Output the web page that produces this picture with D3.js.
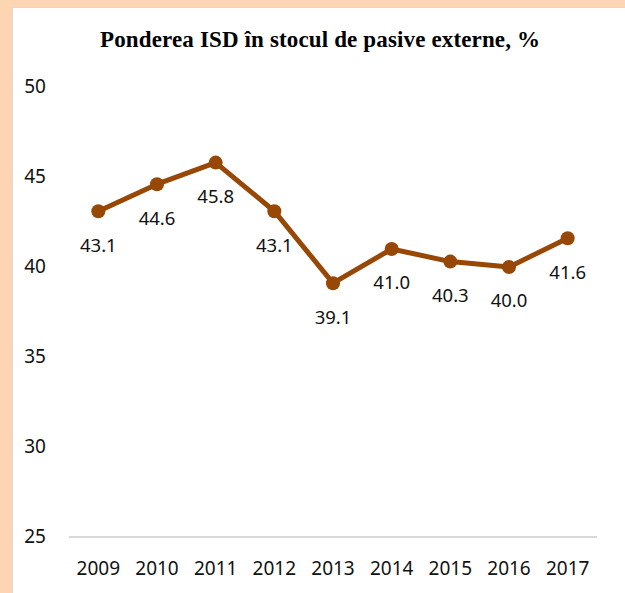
<!DOCTYPE html>
<html>
<head>
<meta charset="utf-8">
<script src="https://cdn.jsdelivr.net/npm/d3@7"></script>
<style>
  body { margin: 0; background: #fdd5b2; }
  #chart { position: absolute; left: 12px; top: 7px; }
</style>
</head>
<body>
<div id="chart"></div>
<script>
// data
const years = ["2009", "2010", "2011", "2012", "2013", "2014", "2015", "2016", "2017"];
const values = [43.1, 44.6, 45.8, 43.1, 39.1, 41.0, 40.3, 40.0, 41.6];
const yTicks = [25, 30, 35, 40, 45, 50];
const title = "Ponderea ISD în stocul de pasive externe, %";

const width = 625 - 12;
const height = 593 - 7;
const margin = {top: 80, right: 28, bottom: 56, left: 57};

const svg = d3.select("#chart").append("svg")
  .attr("width", width)
  .attr("height", height)
  .style("display", "block");

// white panel with thin grey edge
svg.append("rect")
  .attr("x", 0.5).attr("y", 0.5)
  .attr("width", width + 2).attr("height", height + 2)
  .attr("fill", "#ffffff")
  .attr("stroke", "#d9d9d9");

const x = d3.scaleBand()
  .domain(years)
  .range([margin.left, width - margin.right]);

const y = d3.scaleLinear()
  .domain([25, 50])
  .range([height - margin.bottom, margin.top]);

svg.append("text")
  .attr("x", 88)
  .attr("y", 40)
  .attr("textLength", 440)
  .attr("font-family", "'Liberation Serif', serif")
  .attr("font-weight", "bold")
  .attr("font-size", 23)
  .attr("fill", "#000")
  .text(title);

// baseline
svg.append("line")
  .attr("x1", x.range()[0]).attr("x2", x.range()[1])
  .attr("y1", y(25)).attr("y2", y(25))
  .attr("stroke", "#d9d9d9")
  .attr("stroke-width", 2);

// y axis labels
const yAxis = svg.append("g")
  .attr("transform", "translate(34,-1)")
  .call(d3.axisLeft(y).tickValues(yTicks).tickSize(0).tickPadding(0));
yAxis.select(".domain").remove();
yAxis.selectAll("text")
  .attr("font-family", "'Noto Sans', sans-serif")
  .attr("font-size", 19)
  .attr("fill", "#111");

// x axis labels
const xAxis = svg.append("g")
  .attr("transform", "translate(0," + y(25) + ")")
  .call(d3.axisBottom(x).tickSize(0).tickPadding(25));
xAxis.select(".domain").remove();
xAxis.selectAll("text")
  .attr("font-family", "'Noto Sans', sans-serif")
  .attr("font-size", 19)
  .attr("fill", "#111");

const cx = d => x(d.year) + x.bandwidth() / 2;
const rows = years.map((yr, i) => ({year: yr, value: values[i]}));

svg.append("path")
  .datum(rows)
  .attr("fill", "none")
  .attr("stroke", "#974806")
  .attr("stroke-width", 5)
  .attr("stroke-linejoin", "round")
  .attr("d", d3.line().x(cx).y(d => y(d.value)));

svg.selectAll("circle")
  .data(rows)
  .join("circle")
  .attr("cx", cx)
  .attr("cy", d => y(d.value))
  .attr("r", 7)
  .attr("fill", "#974806");

svg.selectAll(".lbl")
  .data(rows)
  .join("text")
  .attr("class", "lbl")
  .attr("x", cx)
  .attr("y", d => y(d.value) + 34)
  .attr("dy", "0.35em")
  .attr("text-anchor", "middle")
  .attr("font-family", "'Noto Sans', sans-serif")
  .attr("font-size", 18.5)
  .attr("fill", "#111")
  .text(d => d.value.toFixed(1));
</script>
</body>
</html>
